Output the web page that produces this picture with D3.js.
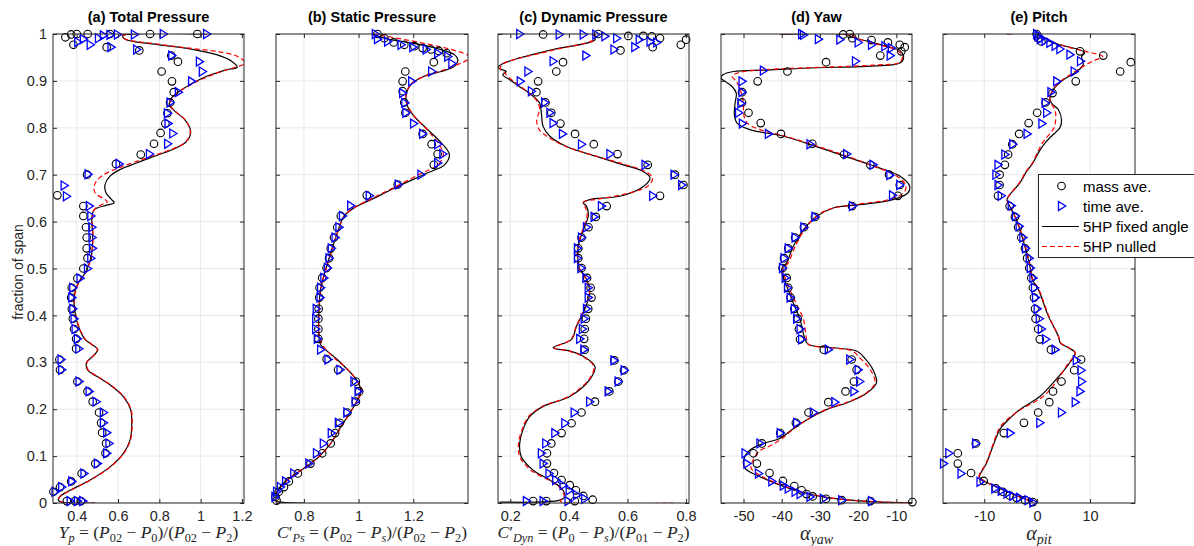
<!DOCTYPE html>
<html><head><meta charset="utf-8">
<script src="https://cdn.jsdelivr.net/npm/d3@7"></script>
<style>body{margin:0;background:#fff}</style>
</head><body><svg id="chart" width="1194" height="546"></svg>
<script>
// ---------- data ----------
const spanTicks = [0,0.1,0.2,0.3,0.4,0.5,0.6,0.7,0.8,0.9,1];
const spanTickLabels = ["0","0.1","0.2","0.3","0.4","0.5","0.6","0.7","0.8","0.9","1"];
const titles = ["(a) Total Pressure","(b) Static Pressure","(c) Dynamic Pressure","(d) Yaw","(e) Pitch"];
const legendLabels = ["mass ave.","time ave.","5HP fixed angle","5HP nulled"];

const totalTicks = [0.4,0.6,0.8,1,1.2];
const totalTickLabels = ["0.4","0.6","0.8","1","1.2"];
const staticTicks = [0.8,1,1.2];
const staticTickLabels = ["0.8","1","1.2"];
const dynTicks = [0.2,0.4,0.6,0.8];
const dynTickLabels = ["0.2","0.4","0.6","0.8"];
const yawTicks = [-50,-40,-30,-20,-10];
const yawTickLabels = ["-50","-40","-30","-20","-10"];
const pitchTicks = [-10,0,10];
const pitchTickLabels = ["-10","0","10"];

// (a) total pressure  [x, span]
const totalMass = [[0.345,0.993],[0.373,0.999],[0.4,1.0],[0.453,1.0],[0.384,0.977],[0.545,0.972],[0.561,1.0],[0.755,1.0],[0.984,1.0],[0.703,0.965],[0.858,0.954],[0.89,0.941],[0.811,0.92],[0.861,0.899],[0.87,0.876],[0.852,0.854],[0.839,0.831],[0.829,0.809],[0.806,0.789],[0.774,0.766],[0.71,0.743],[0.59,0.723],[0.45,0.70],[0.306,0.656],[0.432,0.633],[0.432,0.612],[0.445,0.588],[0.448,0.566],[0.448,0.543],[0.452,0.522],[0.432,0.5],[0.403,0.479],[0.376,0.459],[0.373,0.438],[0.376,0.414],[0.381,0.393],[0.387,0.371],[0.397,0.35],[0.397,0.329],[0.316,0.306],[0.319,0.284],[0.403,0.259],[0.452,0.238],[0.477,0.216],[0.508,0.193],[0.518,0.171],[0.523,0.15],[0.542,0.127],[0.539,0.106],[0.49,0.084],[0.424,0.063],[0.373,0.046],[0.319,0.034],[0.287,0.024],[0.352,0.004],[0.392,0.004],[0.42,0.004]];
const totalTime = [[0.405,0.983],[0.432,0.989],[0.465,0.977],[0.505,0.991],[0.529,0.997],[0.561,0.998],[0.597,0.999],[0.679,0.999],[0.819,1.0],[1.029,1.0],[0.566,0.972],[0.69,0.967],[0.86,0.954],[0.994,0.941],[1.008,0.92],[0.956,0.899],[0.892,0.876],[0.852,0.854],[0.839,0.831],[0.842,0.809],[0.865,0.788],[0.84,0.766],[0.752,0.744],[0.605,0.723],[0.455,0.701],[0.339,0.677],[0.35,0.654],[0.461,0.633],[0.468,0.612],[0.473,0.588],[0.474,0.566],[0.476,0.543],[0.468,0.522],[0.452,0.5],[0.416,0.479],[0.381,0.459],[0.376,0.438],[0.381,0.414],[0.387,0.393],[0.392,0.371],[0.403,0.35],[0.41,0.329],[0.324,0.306],[0.327,0.284],[0.411,0.259],[0.46,0.238],[0.494,0.216],[0.529,0.193],[0.529,0.171],[0.545,0.15],[0.556,0.127],[0.545,0.106],[0.5,0.084],[0.435,0.063],[0.376,0.046],[0.327,0.034],[0.295,0.024],[0.368,0.004],[0.403,0.004],[0.429,0.004]];
const totalFixed = [[1.029,1.0],[0.623,0.996],[0.634,0.989],[0.803,0.977],[0.965,0.967],[1.077,0.956],[1.15,0.942],[1.177,0.929],[1.126,0.924],[1.085,0.918],[1.029,0.91],[0.965,0.896],[0.908,0.881],[0.86,0.864],[0.848,0.849],[0.876,0.835],[0.924,0.817],[0.952,0.792],[0.932,0.771],[0.876,0.756],[0.787,0.741],[0.69,0.725],[0.61,0.711],[0.561,0.697],[0.537,0.679],[0.542,0.661],[0.569,0.647],[0.581,0.64],[0.545,0.635],[0.484,0.625],[0.473,0.604],[0.477,0.576],[0.473,0.533],[0.456,0.505],[0.44,0.49],[0.408,0.47],[0.387,0.441],[0.392,0.406],[0.408,0.377],[0.44,0.349],[0.473,0.338],[0.502,0.327],[0.481,0.314],[0.448,0.3],[0.452,0.284],[0.497,0.27],[0.561,0.252],[0.626,0.227],[0.661,0.199],[0.666,0.163],[0.658,0.134],[0.626,0.106],[0.561,0.077],[0.465,0.049],[0.368,0.027],[0.319,0.014],[0.311,0.006],[0.335,0.001],[0.489,0.0]];
const totalNulled = [[1.03,1.0],[0.62,0.997],[0.632,0.99],[0.8,0.978],[0.96,0.969],[1.09,0.962],[1.18,0.952],[1.215,0.938],[1.16,0.928],[1.1,0.92],[1.04,0.91],[0.97,0.896],[0.91,0.881],[0.862,0.864],[0.85,0.849],[0.878,0.835],[0.925,0.817],[0.95,0.792],[0.93,0.771],[0.87,0.756],[0.78,0.742],[0.68,0.727],[0.6,0.714],[0.53,0.7],[0.495,0.686],[0.484,0.675],[0.489,0.661],[0.537,0.647],[0.548,0.642],[0.51,0.634],[0.484,0.625],[0.475,0.604],[0.478,0.576],[0.474,0.533],[0.457,0.505],[0.441,0.49],[0.41,0.47],[0.389,0.441],[0.393,0.406],[0.41,0.377],[0.442,0.349],[0.474,0.338],[0.5,0.327],[0.48,0.314],[0.45,0.3],[0.455,0.284],[0.5,0.27],[0.563,0.252],[0.628,0.227],[0.663,0.199],[0.668,0.163],[0.66,0.134],[0.628,0.106],[0.563,0.077],[0.467,0.049],[0.37,0.027],[0.32,0.014],[0.312,0.006],[0.34,0.001],[0.49,0.0]];

// (b) static pressure
const staticMass = [[1.069,1.0],[1.094,0.991],[1.128,0.982],[1.167,0.977],[1.204,0.974],[1.234,0.97],[1.265,0.967],[1.293,0.964],[1.322,0.959],[1.275,0.94],[1.171,0.92],[1.161,0.899],[1.161,0.878],[1.167,0.854],[1.171,0.832],[1.234,0.787],[1.267,0.765],[1.289,0.744],[1.275,0.721],[1.143,0.679],[1.03,0.656],[0.935,0.612],[0.922,0.588],[0.91,0.566],[0.898,0.543],[0.892,0.522],[0.883,0.501],[0.867,0.48],[0.857,0.459],[0.856,0.438],[0.854,0.414],[0.853,0.393],[0.853,0.371],[0.853,0.35],[0.883,0.307],[0.925,0.284],[0.99,0.259],[1.002,0.238],[0.99,0.216],[0.959,0.193],[0.931,0.171],[0.914,0.149],[0.898,0.127],[0.867,0.106],[0.824,0.084],[0.778,0.063],[0.745,0.046],[0.727,0.034],[0.708,0.024],[0.696,0.013],[0.7,0.005]];
const staticTime = [[1.061,1.0],[1.069,0.989],[1.106,0.984],[1.155,0.977],[1.198,0.972],[1.247,0.967],[1.289,0.959],[1.326,0.952],[1.341,0.937],[1.267,0.92],[1.194,0.899],[1.161,0.874],[1.169,0.853],[1.173,0.832],[1.201,0.809],[1.234,0.787],[1.289,0.765],[1.308,0.744],[1.289,0.725],[1.228,0.7],[1.145,0.679],[1.039,0.655],[0.971,0.634],[0.941,0.612],[0.928,0.588],[0.914,0.566],[0.9,0.543],[0.892,0.522],[0.886,0.501],[0.873,0.48],[0.861,0.459],[0.859,0.438],[0.845,0.414],[0.843,0.393],[0.843,0.371],[0.849,0.35],[0.861,0.327],[0.888,0.306],[0.932,0.284],[0.983,0.259],[0.998,0.238],[0.987,0.216],[0.957,0.193],[0.926,0.171],[0.9,0.149],[0.871,0.127],[0.846,0.106],[0.818,0.084],[0.763,0.063],[0.733,0.046],[0.714,0.034],[0.7,0.024],[0.694,0.013]];
const staticFixed = [[1.051,1.0],[1.1,0.99],[1.18,0.982],[1.253,0.974],[1.35,0.956],[1.363,0.945],[1.35,0.931],[1.302,0.92],[1.24,0.91],[1.191,0.892],[1.173,0.867],[1.179,0.846],[1.204,0.824],[1.253,0.796],[1.302,0.768],[1.332,0.743],[1.314,0.721],[1.253,0.704],[1.143,0.675],[1.057,0.65],[0.983,0.629],[0.947,0.612],[0.922,0.576],[0.898,0.533],[0.88,0.499],[0.861,0.456],[0.855,0.413],[0.855,0.356],[0.861,0.338],[0.922,0.306],[0.983,0.27],[0.996,0.259],[1.008,0.24],[0.99,0.213],[0.959,0.184],[0.928,0.156],[0.898,0.127],[0.855,0.099],[0.8,0.074],[0.739,0.049],[0.702,0.024],[0.696,0.006],[0.8,0.0]];
const staticNulled = [[1.051,1.0],[1.406,0.951],[1.332,0.928],[1.24,0.91],[1.19,0.892],[1.172,0.867],[1.18,0.846],[1.205,0.824],[1.25,0.796],[1.29,0.768],[1.31,0.743],[1.29,0.721],[1.23,0.703],[1.14,0.676],[1.055,0.651],[0.985,0.63],[0.948,0.612],[0.923,0.576],[0.899,0.533],[0.881,0.499],[0.862,0.456],[0.856,0.413],[0.856,0.356],[0.87,0.335],[0.91,0.31],[0.96,0.285],[0.995,0.26],[1.012,0.24],[0.99,0.213],[0.96,0.184],[0.93,0.156],[0.898,0.127],[0.855,0.099],[0.8,0.074],[0.74,0.049],[0.704,0.024],[0.697,0.006],[0.72,0.0]];

// (c) dynamic pressure
const dynMass = [[0.312,0.999],[0.5,1.0],[0.603,0.996],[0.654,0.996],[0.683,0.995],[0.711,0.991],[0.8,0.988],[0.782,0.977],[0.686,0.972],[0.576,0.965],[0.38,0.94],[0.357,0.92],[0.295,0.899],[0.289,0.876],[0.32,0.854],[0.34,0.832],[0.371,0.809],[0.421,0.787],[0.485,0.765],[0.566,0.744],[0.669,0.721],[0.762,0.7],[0.791,0.678],[0.711,0.655],[0.529,0.633],[0.492,0.61],[0.467,0.588],[0.443,0.566],[0.432,0.543],[0.432,0.522],[0.443,0.501],[0.462,0.48],[0.474,0.459],[0.477,0.438],[0.466,0.414],[0.458,0.393],[0.454,0.371],[0.452,0.35],[0.454,0.327],[0.555,0.304],[0.588,0.283],[0.569,0.259],[0.538,0.238],[0.489,0.216],[0.443,0.193],[0.409,0.17],[0.375,0.149],[0.34,0.127],[0.325,0.106],[0.325,0.084],[0.349,0.064],[0.375,0.049],[0.403,0.038],[0.424,0.027],[0.449,0.015],[0.481,0.007],[0.42,0.004],[0.323,0.004],[0.278,0.004]];
const dynTime = [[0.232,1.0],[0.367,0.999],[0.449,0.999],[0.492,0.999],[0.523,0.995],[0.563,0.991],[0.64,0.988],[0.677,0.984],[0.7,0.982],[0.625,0.972],[0.554,0.967],[0.458,0.954],[0.346,0.942],[0.26,0.92],[0.234,0.899],[0.272,0.878],[0.317,0.854],[0.335,0.832],[0.346,0.81],[0.378,0.787],[0.443,0.765],[0.54,0.744],[0.66,0.721],[0.759,0.7],[0.785,0.678],[0.686,0.655],[0.511,0.633],[0.486,0.61],[0.46,0.588],[0.443,0.566],[0.429,0.543],[0.429,0.522],[0.441,0.501],[0.458,0.48],[0.466,0.459],[0.466,0.438],[0.46,0.414],[0.452,0.393],[0.446,0.371],[0.437,0.35],[0.451,0.327],[0.554,0.304],[0.589,0.283],[0.568,0.259],[0.534,0.238],[0.471,0.216],[0.418,0.193],[0.386,0.17],[0.352,0.149],[0.321,0.127],[0.306,0.106],[0.312,0.084],[0.332,0.063],[0.355,0.049],[0.38,0.038],[0.401,0.027],[0.426,0.017],[0.454,0.009],[0.397,0.004],[0.255,0.004],[0.312,0.004]];
const dynFixed = [[0.158,1.0],[0.48,1.0],[0.489,0.988],[0.346,0.967],[0.232,0.949],[0.169,0.935],[0.158,0.928],[0.186,0.92],[0.174,0.913],[0.197,0.903],[0.231,0.888],[0.271,0.871],[0.3,0.853],[0.306,0.832],[0.312,0.803],[0.335,0.782],[0.392,0.76],[0.494,0.739],[0.586,0.721],[0.654,0.707],[0.677,0.693],[0.654,0.675],[0.574,0.654],[0.471,0.647],[0.449,0.64],[0.46,0.633],[0.466,0.612],[0.449,0.583],[0.432,0.547],[0.432,0.512],[0.437,0.499],[0.46,0.477],[0.471,0.449],[0.454,0.413],[0.426,0.377],[0.409,0.349],[0.346,0.331],[0.403,0.324],[0.449,0.313],[0.489,0.291],[0.471,0.263],[0.403,0.227],[0.312,0.206],[0.266,0.184],[0.243,0.156],[0.232,0.127],[0.237,0.099],[0.278,0.07],[0.335,0.049],[0.375,0.031],[0.386,0.013],[0.369,0.006],[0.163,0.002]];
const dynNulled = [[0.158,1.0],[0.485,1.0],[0.49,0.99],[0.35,0.966],[0.23,0.948],[0.175,0.936],[0.165,0.925],[0.18,0.918],[0.19,0.91],[0.22,0.895],[0.26,0.876],[0.29,0.858],[0.3,0.84],[0.29,0.815],[0.3,0.795],[0.33,0.78],[0.39,0.76],[0.49,0.74],[0.59,0.722],[0.66,0.707],[0.686,0.693],[0.67,0.676],[0.6,0.66],[0.49,0.647],[0.45,0.642],[0.455,0.633],[0.462,0.612],[0.447,0.583],[0.43,0.547],[0.43,0.512],[0.436,0.499],[0.458,0.477],[0.47,0.449],[0.452,0.413],[0.425,0.377],[0.408,0.349],[0.35,0.331],[0.4,0.324],[0.445,0.313],[0.485,0.291],[0.468,0.263],[0.398,0.227],[0.31,0.206],[0.262,0.184],[0.24,0.156],[0.228,0.127],[0.232,0.099],[0.27,0.07],[0.33,0.049],[0.372,0.031],[0.384,0.013],[0.37,0.004],[0.757,0.0]];

// (d) yaw
const yawMass = [[-23.9,0.999],[-22.2,1.0],[-21.5,0.991],[-16.5,0.987],[-12.2,0.982],[-9.1,0.977],[-7.8,0.972],[-8.7,0.963],[-14.2,0.954],[-28.4,0.94],[-38.5,0.92],[-46.3,0.899],[-50.4,0.876],[-50.4,0.854],[-48.7,0.832],[-45.5,0.81],[-40.2,0.787],[-32.0,0.766],[-23.7,0.743],[-16.8,0.721],[-11.9,0.7],[-9.1,0.678],[-9.6,0.655],[-21.6,0.633],[-31.3,0.61],[-34.2,0.588],[-36.5,0.566],[-38.3,0.543],[-39.4,0.522],[-39.8,0.501],[-38.7,0.48],[-38.3,0.459],[-37.7,0.438],[-36.7,0.414],[-35.8,0.393],[-35.5,0.371],[-35.2,0.349],[-29,0.327],[-21.7,0.306],[-20.4,0.284],[-21.1,0.259],[-23.3,0.238],[-27.8,0.215],[-33,0.193],[-36.3,0.171],[-40.4,0.149],[-45.2,0.127],[-47.4,0.106],[-46.5,0.084],[-43.2,0.064],[-39.7,0.047],[-36.7,0.036],[-34.8,0.027],[-33.5,0.019],[-31.9,0.014],[-28.4,0.009],[-24.3,0.006],[-16.8,0.004],[-5.8,0.002]];
const yawTime = [[-34.8,1.0],[-34.3,0.998],[-30.4,0.989],[-24.8,0.988],[-20,0.982],[-16.5,0.977],[-13,0.974],[-11.3,0.97],[-11.6,0.954],[-20.7,0.942],[-44.8,0.922],[-50.4,0.899],[-50.4,0.876],[-50.7,0.852],[-51.3,0.832],[-50.3,0.809],[-43.5,0.787],[-32.6,0.765],[-23,0.744],[-16.1,0.721],[-11.7,0.699],[-9.1,0.678],[-11,0.656],[-21.5,0.633],[-31.3,0.61],[-34.2,0.588],[-36.5,0.566],[-38.3,0.543],[-39.4,0.522],[-39.8,0.501],[-39.1,0.48],[-38.5,0.459],[-37.8,0.438],[-36.7,0.414],[-36.1,0.393],[-35.2,0.371],[-34.8,0.349],[-27.8,0.327],[-22.2,0.306],[-20,0.284],[-19.6,0.259],[-21.1,0.238],[-26.1,0.215],[-31.7,0.193],[-36.1,0.171],[-40.4,0.149],[-45.7,0.127],[-49.6,0.106],[-49.1,0.084],[-46.1,0.063],[-42.6,0.046],[-39.6,0.037],[-38.3,0.031],[-36.5,0.024],[-35.2,0.019],[-32.6,0.013],[-29.1,0.009],[-24.3,0.006],[-16.5,0.004]];
const yawFixed = [[-40.4,0.999],[-23,0.999],[-21.5,0.993],[-16.3,0.982],[-11.9,0.972],[-9.1,0.965],[-8.1,0.949],[-9.1,0.938],[-17.8,0.931],[-30.9,0.928],[-43.9,0.923],[-52.6,0.92],[-55.4,0.913],[-55.9,0.906],[-54.8,0.899],[-53,0.888],[-51.9,0.874],[-52.2,0.853],[-52.4,0.828],[-51.7,0.81],[-48.3,0.796],[-39.6,0.782],[-30.9,0.76],[-22.2,0.736],[-14.3,0.714],[-9.1,0.697],[-6.5,0.675],[-7,0.661],[-10.9,0.647],[-19.6,0.636],[-26.5,0.629],[-30.9,0.611],[-34.3,0.583],[-37,0.547],[-38.7,0.512],[-40,0.499],[-38.7,0.463],[-37,0.427],[-35.2,0.391],[-33.9,0.349],[-33,0.338],[-26.5,0.331],[-20.4,0.324],[-18.3,0.309],[-16.1,0.284],[-15.2,0.256],[-17.8,0.234],[-22.2,0.216],[-28.3,0.199],[-33.5,0.177],[-37.4,0.156],[-40.4,0.138],[-44.8,0.127],[-48.3,0.113],[-50,0.091],[-49.6,0.074],[-45.7,0.056],[-40.4,0.038],[-35.2,0.024],[-29.1,0.013],[-22.2,0.006],[-13.5,0.002],[-5.7,0.001]];
const yawNulled = [[-40.4,1.0],[-22,0.998],[-20,0.99],[-15,0.978],[-10.5,0.968],[-8.5,0.955],[-9,0.94],[-15,0.934],[-30,0.929],[-44,0.924],[-51,0.918],[-53,0.91],[-52,0.9],[-51,0.885],[-50.5,0.87],[-50,0.85],[-50,0.83],[-49,0.81],[-46,0.797],[-39,0.782],[-30.5,0.76],[-22,0.737],[-15,0.715],[-10,0.698],[-7.5,0.677],[-8,0.662],[-11.5,0.648],[-20,0.637],[-27,0.628],[-31,0.611],[-34,0.583],[-36.5,0.547],[-38.3,0.512],[-39.6,0.499],[-38.3,0.463],[-36.3,0.427],[-34.3,0.391],[-33.5,0.349],[-33,0.338],[-27,0.331],[-21.5,0.324],[-19.5,0.309],[-16.8,0.284],[-15.6,0.256],[-18,0.234],[-22.5,0.216],[-28.5,0.199],[-33.5,0.177],[-37.2,0.156],[-39.8,0.138],[-43,0.122],[-46,0.11],[-47.5,0.091],[-48,0.074],[-45,0.056],[-40,0.038],[-35,0.024],[-29,0.013],[-22,0.006],[-13.5,0.002],[-5.7,0.0]];

// (e) pitch
const pitchMass = [[-0.1,1.0],[0.2,0.991],[0.8,0.984],[8.1,0.963],[12.5,0.954],[17.7,0.94],[15.7,0.92],[7.3,0.899],[2.9,0.874],[1.6,0.854],[0,0.832],[-1.6,0.81],[-3.4,0.787],[-4.7,0.765],[-5.5,0.743],[-6.1,0.721],[-7.1,0.7],[-7.1,0.678],[-7.4,0.655],[-5.2,0.633],[-4.2,0.61],[-3.6,0.588],[-3,0.566],[-2.3,0.543],[-1.9,0.522],[-1.5,0.501],[-1.1,0.48],[-0.8,0.459],[-0.6,0.438],[-0.4,0.414],[-0.3,0.393],[0.2,0.371],[0.5,0.349],[2.6,0.327],[8.3,0.306],[7,0.283],[4.6,0.259],[3,0.238],[2.3,0.215],[0.2,0.193],[-2.5,0.171],[-6.3,0.149],[-11.6,0.127],[-15,0.106],[-15,0.084],[-12.5,0.064],[-10.1,0.047],[-7.8,0.031],[-6.5,0.024],[-5.2,0.016],[-3.9,0.011],[-2.3,0.006],[-0.8,0.002]];
const pitchTime = [[-0.1,1.0],[0.2,0.995],[0.6,0.989],[1.5,0.986],[2.4,0.981],[3.4,0.975],[4.3,0.968],[6.2,0.956],[8.2,0.942],[7,0.92],[3.7,0.899],[2.6,0.876],[1.5,0.853],[1.8,0.832],[0.9,0.809],[-1.9,0.787],[-4.6,0.765],[-6.1,0.743],[-7.4,0.721],[-7.8,0.7],[-7.4,0.678],[-6.8,0.655],[-4.9,0.634],[-4.1,0.612],[-3.4,0.59],[-2.7,0.566],[-2.2,0.543],[-1.5,0.522],[-1.3,0.501],[-0.8,0.48],[-0.5,0.459],[-0.3,0.438],[0,0.414],[0.4,0.393],[0.8,0.371],[1.6,0.349],[3.4,0.327],[7.4,0.304],[8.3,0.283],[8.4,0.259],[8.1,0.238],[7.2,0.215],[4.6,0.193],[0.5,0.171],[-5.1,0.149],[-11.6,0.127],[-16.7,0.106],[-17.7,0.084],[-14.4,0.063],[-10.8,0.045],[-8,0.031],[-6.8,0.026],[-5.7,0.02],[-4.6,0.015],[-3.3,0.011],[-1.7,0.006],[-0.8,0.001]];
const pitchFixed = [[-5.7,1.0],[-0.1,1.0],[3,0.981],[7.5,0.968],[9,0.96],[8.4,0.952],[8.7,0.935],[7.5,0.92],[4.9,0.902],[3,0.881],[2.4,0.864],[2.7,0.853],[4,0.839],[4.6,0.817],[4.3,0.8],[2.7,0.782],[1.5,0.768],[0.2,0.746],[-0.8,0.725],[-2,0.707],[-3.3,0.682],[-5.2,0.657],[-5.7,0.647],[-5.2,0.633],[-3.9,0.604],[-2.7,0.562],[-1.4,0.506],[-0.9,0.476],[0.2,0.456],[2.1,0.399],[4,0.356],[4.4,0.341],[5.9,0.331],[7.2,0.32],[5.9,0.295],[3,0.256],[0.5,0.227],[-3.3,0.199],[-6.1,0.17],[-7.1,0.156],[-8.4,0.12],[-9.6,0.084],[-10.9,0.056],[-10.3,0.049],[-7.7,0.034],[-3.9,0.016],[-0.8,0.002]];
const pitchNulled = [[-5.7,1.0],[-0.1,1.0],[3,0.983],[6.5,0.97],[9.5,0.962],[12.4,0.952],[10.5,0.942],[8.7,0.931],[6.5,0.915],[4.5,0.9],[3,0.881],[2.4,0.864],[2.6,0.853],[3.4,0.837],[3.5,0.817],[3.2,0.8],[2,0.782],[1,0.768],[0,0.746],[-0.9,0.725],[-2.1,0.707],[-3.4,0.682],[-5.2,0.657],[-5.7,0.647],[-5.2,0.633],[-3.9,0.604],[-2.6,0.562],[-1.3,0.506],[-0.8,0.476],[0.3,0.456],[2.2,0.399],[4,0.356],[4.5,0.341],[6,0.331],[7.2,0.32],[5.7,0.295],[3.4,0.255],[1,0.226],[-3.6,0.196],[-6.4,0.17],[-7.3,0.156],[-8.5,0.12],[-9.7,0.084],[-11,0.056],[-10.3,0.049],[-7.7,0.034],[-3.9,0.016],[-0.8,0.002]];

// x-axis label pieces: [text, style]  i=italic r=roman si/sr=subscript
const labelTotal = [["Y","i"],["p","si"],[" = (","r"],["P","i"],["02","sr"],[" − ","r"],["P","i"],["0","sr"],[")/(","r"],["P","i"],["02","sr"],[" − ","r"],["P","i"],["2","sr"],[")","r"]];
const labelStatic = [["C","i"],["′","r"],["Ps","si"],[" = (","r"],["P","i"],["02","sr"],[" − ","r"],["P","i"],["s","si"],[")/(","r"],["P","i"],["02","sr"],[" − ","r"],["P","i"],["2","sr"],[")","r"]];
const labelDyn = [["C","i"],["′","r"],["Dyn","si"],[" = (","r"],["P","i"],["0","sr"],[" − ","r"],["P","i"],["s","si"],[")/(","r"],["P","i"],["01","sr"],[" − ","r"],["P","i"],["2","sr"],[")","r"]];
const labelYaw = [["α","i"],["yaw","si"]];
const labelPitch = [["α","i"],["pit","si"]];

// ---------- layout ----------
const yTop = 34, yBot = 503;
const panels = [
  {title:titles[0], x0:53,  x1:244, dom:[0.285,1.21], ticks:totalTicks, tl:totalTickLabels, mass:totalMass, time:totalTime, fixed:totalFixed, nulled:totalNulled, label:labelTotal},
  {title:titles[1], x0:276, x1:468, dom:[0.698,1.40], ticks:staticTicks, tl:staticTickLabels, mass:staticMass, time:staticTime, fixed:staticFixed, nulled:staticNulled, label:labelStatic},
  {title:titles[2], x0:498, x1:689, dom:[0.158,0.81], ticks:dynTicks, tl:dynTickLabels, mass:dynMass, time:dynTime, fixed:dynFixed, nulled:dynNulled, label:labelDyn},
  {title:titles[3], x0:721, x1:912, dom:[-55.9,-5.9], ticks:yawTicks, tl:yawTickLabels, mass:yawMass, time:yawTime, fixed:yawFixed, nulled:yawNulled, label:labelYaw, big:true},
  {title:titles[4], x0:943, x1:1135, dom:[-17.8,18.5], ticks:pitchTicks, tl:pitchTickLabels, mass:pitchMass, time:pitchTime, fixed:pitchFixed, nulled:pitchNulled, label:labelPitch, big:true}
];

const svg = d3.select("#chart");
const AX = "#262626";
const sans = "'Liberation Sans', Arial, Helvetica, sans-serif";
const serif = "'Liberation Serif', 'DejaVu Serif', serif";
const y = d3.scaleLinear().domain([0,1]).range([yBot,yTop]);
const triPath = "M-3,-4.5L4.2,0L-3,4.5Z";

panels.forEach((p,i) => {
  const x = d3.scaleLinear().domain(p.dom).range([p.x0,p.x1]);
  const g = svg.append("g");
  const cid = "clip"+i;
  svg.append("clipPath").attr("id",cid).append("rect")
     .attr("x",p.x0).attr("y",yTop).attr("width",p.x1-p.x0).attr("height",yBot-yTop);

  // grid
  const grid = g.append("g").attr("stroke","#e3e3e3").attr("stroke-width",0.8);
  grid.selectAll("line.v").data(p.ticks).join("line")
    .attr("x1",d=>x(d)).attr("x2",d=>x(d)).attr("y1",yTop).attr("y2",yBot);
  grid.selectAll("line.h").data(spanTicks).join("line")
    .attr("x1",p.x0).attr("x2",p.x1).attr("y1",d=>y(d)).attr("y2",d=>y(d));

  // lines
  const line = d3.line().x(d=>x(d[0])).y(d=>y(d[1])).curve(d3.curveCatmullRom.alpha(0.5));
  const lg = g.append("g").attr("clip-path",`url(#${cid})`).attr("fill","none");
  lg.append("path").attr("d",line(p.fixed)).attr("stroke","#000").attr("stroke-width",1.2);
  lg.append("path").attr("d",line(p.nulled)).attr("stroke","#ff0000").attr("stroke-width",1.2).attr("stroke-dasharray","5,3");

  // markers
  g.append("g").selectAll("circle").data(p.mass).join("circle")
    .attr("cx",d=>x(d[0])).attr("cy",d=>y(d[1])).attr("r",3.8)
    .attr("fill","none").attr("stroke","#000").attr("stroke-width",1.1);
  g.append("g").selectAll("path").data(p.time).join("path")
    .attr("d",triPath).attr("transform",d=>`translate(${x(d[0])},${y(d[1])})`)
    .attr("fill","none").attr("stroke","#0000ff").attr("stroke-width",1.3);

  // axes (inward ticks)
  const xb = d3.axisBottom(x).tickValues(p.ticks).tickFormat((d,k)=>p.tl[k]).tickSize(-4).tickPadding(8);
  const xt = d3.axisTop(x).tickValues(p.ticks).tickFormat("").tickSize(-4);
  const yl = d3.axisLeft(y).tickValues(spanTicks).tickFormat((d,k)=> i===0 ? spanTickLabels[k] : "").tickSize(-4).tickPadding(6);
  const yr = d3.axisRight(y).tickValues(spanTicks).tickFormat("").tickSize(-4);
  const styleAxis = a => { a.select(".domain").remove(); a.selectAll("line").attr("stroke",AX);
     a.selectAll("text").attr("fill",AX).style("font-family",sans).style("font-size","14.5px"); };
  g.append("g").attr("transform",`translate(0,${yBot})`).call(xb).call(styleAxis);
  g.append("g").attr("transform",`translate(0,${yTop})`).call(xt).call(styleAxis);
  g.append("g").attr("transform",`translate(${p.x0},0)`).call(yl).call(styleAxis);
  g.append("g").attr("transform",`translate(${p.x1},0)`).call(yr).call(styleAxis);
  g.append("rect").attr("x",p.x0).attr("y",yTop).attr("width",p.x1-p.x0).attr("height",yBot-yTop)
    .attr("fill","none").attr("stroke",AX).attr("stroke-width",1);

  // title
  g.append("text").attr("x",(p.x0+p.x1)/2).attr("y",21.5).attr("text-anchor","middle")
    .style("font-family",sans).style("font-size","14.5px").style("font-weight","bold").attr("fill","#000")
    .text(p.title);

  // x label
  const fs = p.big ? 20 : 17.5;
  const t = g.append("text").attr("x",(p.x0+p.x1)/2).attr("y",p.big?540:538).attr("text-anchor","middle")
    .style("font-family",serif).style("font-size",fs+"px").attr("fill",AX);
  let sub = false;
  p.label.forEach(([s,st]) => {
    const isSub = st[0]==="s";
    const ts = t.append("tspan").text(s)
      .style("font-style", st.endsWith("i") ? "italic" : "normal")
      .style("font-size", isSub ? (fs*0.7)+"px" : fs+"px");
    if (isSub && !sub) ts.attr("dy", fs*0.22);
    if (!isSub && sub) ts.attr("dy", -fs*0.22);
    sub = isSub;
  });
});

// y label
svg.append("text").attr("transform","translate(23,272) rotate(-90)").attr("text-anchor","middle")
  .style("font-family",sans).style("font-size","14px").attr("fill",AX).text("fraction of span");

// legend
const lgd = svg.append("g");
lgd.append("rect").attr("x",1038.5).attr("y",174.5).attr("width",170).attr("height",83)
  .attr("fill","#fff").attr("stroke",AX).attr("stroke-width",1);
const ly = [186,206,226.5,246.5];
lgd.append("circle").attr("cx",1061.5).attr("cy",ly[0]).attr("r",3.8).attr("fill","none").attr("stroke","#000").attr("stroke-width",1.1);
lgd.append("path").attr("d",triPath).attr("transform",`translate(1061.5,${ly[1]})`).attr("fill","none").attr("stroke","#0000ff").attr("stroke-width",1.3);
lgd.append("line").attr("x1",1042).attr("x2",1079).attr("y1",ly[2]).attr("y2",ly[2]).attr("stroke","#000").attr("stroke-width",1.2);
lgd.append("line").attr("x1",1042).attr("x2",1079).attr("y1",ly[3]).attr("y2",ly[3]).attr("stroke","#ff0000").attr("stroke-width",1.2).attr("stroke-dasharray","5,3");
lgd.selectAll("text").data(legendLabels).join("text")
  .attr("x",1083).attr("y",(d,k)=>ly[k]+5.5)
  .style("font-family",sans).style("font-size","15px").attr("fill","#000").text(d=>d);
</script>
</body></html>
